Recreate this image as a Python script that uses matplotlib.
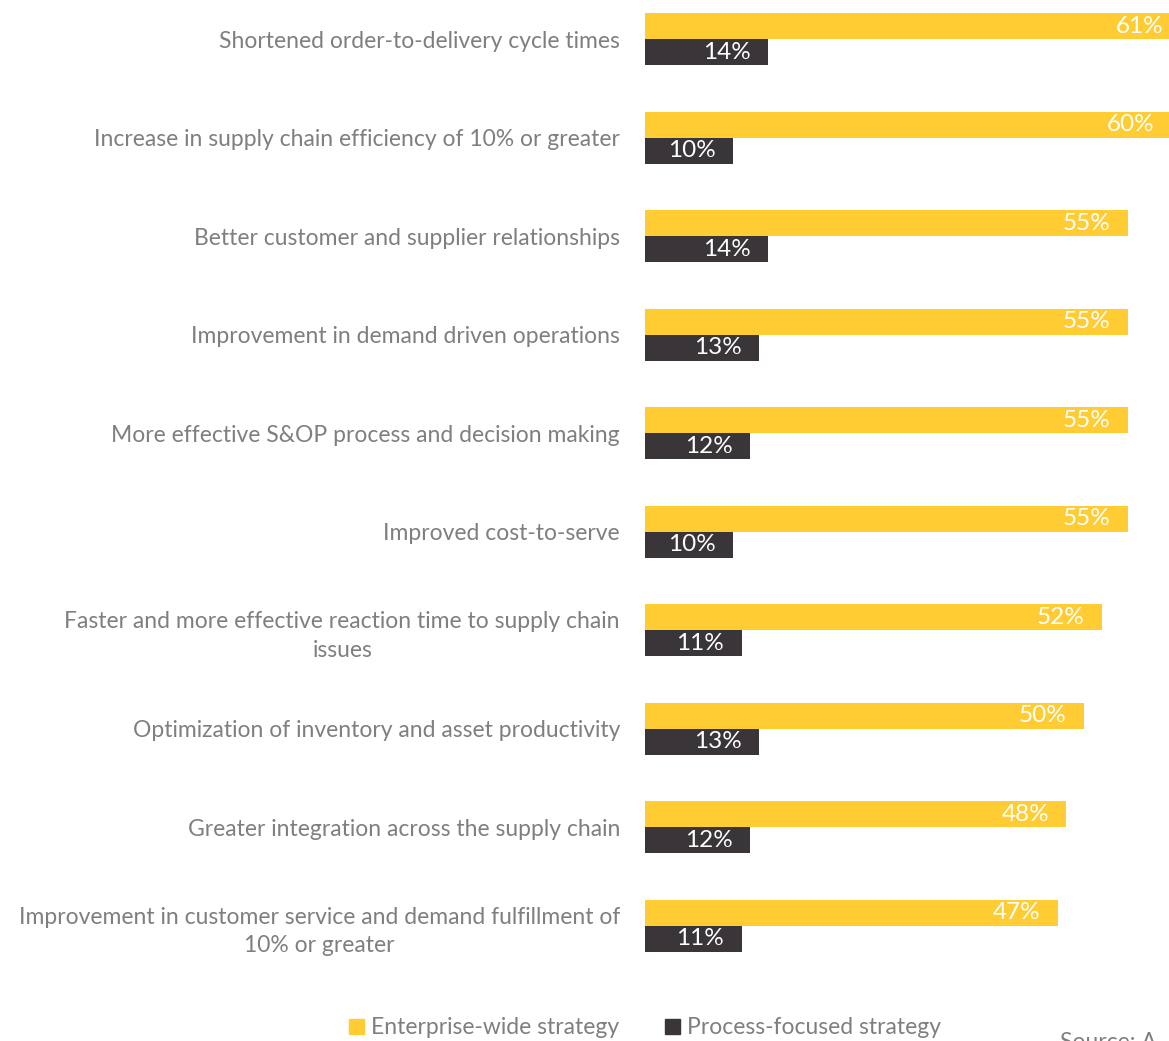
import matplotlib.pyplot as plt
import matplotlib.patches as mpatches
import numpy as np

plt.rcParams['font.family'] = ['Lato', 'DejaVu Sans']

categories = [
    "Shortened order-to-delivery cycle times",
    "Increase in supply chain efficiency of 10% or greater",
    "Better customer and supplier relationships",
    "Improvement in demand driven operations",
    "More effective S&OP process and decision making",
    "Improved cost-to-serve",
    "Faster and more effective reaction time to supply chain\nissues",
    "Optimization of inventory and asset productivity",
    "Greater integration across the supply chain",
    "Improvement in customer service and demand fulfillment of\n10% or greater",
]
enterprise = [61, 60, 55, 55, 55, 55, 52, 50, 48, 47]
process = [14, 10, 14, 13, 12, 10, 11, 13, 12, 11]

yellow = '#FFCD33'
dark = '#3A3538'
grey = '#7F7F7F'

fig = plt.figure(figsize=(11.69, 10.41), dpi=100)
ax = fig.add_axes([645 / 1169, 56 / 1041, 1 - 645 / 1169, 985 / 1041])

y = np.arange(len(categories))
h = 0.264
ax.barh(y - h / 2, enterprise, height=h, color=yellow)
ax.barh(y + h / 2, process, height=h, color=dark)

for yi, v in zip(y - h / 2, enterprise):
    ax.annotate(f"{v}%", xy=(v, yi), xytext=(-12.5, 0), textcoords='offset points',
                ha='right', va='center', color='white', fontsize=17.5, annotation_clip=False)
for yi, v in zip(y + h / 2, process):
    ax.annotate(f"{v}%", xy=(v, yi), xytext=(-12.5, 0), textcoords='offset points',
                ha='right', va='center', color='white', fontsize=17.5, annotation_clip=False)

ax.set_xlim(0, (1169 - 645) / 8.78)
ax.set_ylim(9.604, -0.396)
ax.set_yticks(y)
ax.set_yticklabels(categories, fontsize=16.5, color=grey, multialignment='center',
                   linespacing=1.45)
ax.tick_params(axis='y', length=0, pad=18)
ax.set_xticks([])
for s in ax.spines.values():
    s.set_visible(False)

handles = [mpatches.Patch(color=yellow, label='Enterprise-wide strategy'),
           mpatches.Patch(color=dark, label='Process-focused strategy')]
leg = fig.legend(handles=handles, loc='center', bbox_to_anchor=(645 / 1169, 13 / 1041),
                 ncol=2, frameon=False, fontsize=16.5, handlelength=0.65, handleheight=0.65,
                 handletextpad=0.3, columnspacing=2.0)
for t in leg.get_texts():
    t.set_color(grey)

fig.text(1060 / 1169, -12 / 1041, "Source: A", fontsize=16.5, color=grey, ha='left', va='bottom')

fig.savefig('out.png', dpi=100)
